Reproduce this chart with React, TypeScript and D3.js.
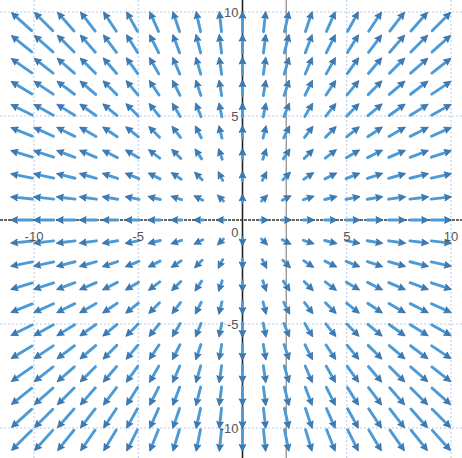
import React from "react";
import * as d3 from "d3";

// Vector field F(x, y) = A · (x, y)  (a radial source)
const fieldMatrix: number[][] = [
  [1, 0],
  [0, 1],
];

// Sample grid (index × step, in data units)
const gridCols: number[] = [-10, -9, -8, -7, -6, -5, -4, -3, -2, -1, 0, 1, 2, 3, 4, 5, 6, 7, 8, 9];
const gridRows: number[] = [-10, -9, -8, -7, -6, -5, -4, -3, -2, -1, 0, 1, 2, 3, 4, 5, 6, 7, 8, 9];
const gridStep = 1.06;

// Axis ticks and labels
const xTicks: number[] = [-10, -5, 5, 10];
const yTicks: number[] = [-10, -5, 5, 10];
const xTickLabels: string[] = ["-10", "-5", "5", "10"];
const yTickLabels: string[] = ["-10", "-5", "5", "10"];
const originLabel = "0";

// Extra vertical reference line
const refLineX: number[] = [2.1];

const W = 462;
const H = 458;

export default function App() {
  const x = d3.scaleLinear().domain([-10, 10]).range([34, 451]);
  const y = d3.scaleLinear().domain([-10, 10]).range([428, 12]);

  const arrows: { key: string; d: string; head: string }[] = [];
  for (const r of gridRows) {
    for (const c of gridCols) {
      const px = c * gridStep;
      const py = r * gridStep;
      const fx = fieldMatrix[0][0] * px + fieldMatrix[0][1] * py;
      const fy = fieldMatrix[1][0] * px + fieldMatrix[1][1] * py;
      const mag = Math.hypot(fx, fy);
      if (mag < 1e-9) continue;
      const ux = fx / mag;
      const uy = -fy / mag; // screen direction
      const L = 6.5 + 1.45 * mag;
      const cx = x(px);
      const cy = y(py);
      const sx = cx - (ux * L) / 2;
      const sy = cy - (uy * L) / 2;
      const ex = cx + (ux * L) / 2;
      const ey = cy + (uy * L) / 2;
      const hl = 7;
      const hw = 3.4;
      const bx = ex - ux * hl;
      const by = ey - uy * hl;
      const nx = -uy;
      const ny = ux;
      const d = L > hl ? `M${sx},${sy}L${bx + ux * 1.5},${by + uy * 1.5}` : "";
      const head = `M${ex},${ey}L${bx + nx * hw},${by + ny * hw}L${bx + ux * 1.3},${by + uy * 1.3}L${bx - nx * hw},${by - ny * hw}Z`;
      arrows.push({ key: `${r}_${c}`, d, head });
    }
  }

  const font = "'Liberation Sans', Arial, sans-serif";

  return (
    <svg
      width={W}
      height={H}
      style={{ position: "absolute", left: 0, top: 0, background: "#fff" }}
    >
      {/* grid lines */}
      <g stroke="#b3c9ec" strokeWidth={1} strokeDasharray="2,2">
        {xTicks.map((t) => (
          <line key={"gx" + t} x1={x(t)} x2={x(t)} y1={0} y2={H} />
        ))}
        {yTicks.map((t) => (
          <line key={"gy" + t} x1={0} x2={W} y1={y(t)} y2={y(t)} />
        ))}
      </g>

      {/* extra grey vertical line */}
      {refLineX.map((v) => (
        <line key={"r" + v} x1={x(v)} x2={x(v)} y1={0} y2={H} stroke="#9a9a9a" strokeWidth={1.4} />
      ))}

      {/* axes */}
      <line x1={0} x2={W} y1={y(0)} y2={y(0)} stroke="#333" strokeWidth={1.6} strokeDasharray="3,1" />
      <line x1={x(0)} x2={x(0)} y1={0} y2={H} stroke="#222" strokeWidth={1.6} />

      {/* arrows */}
      <g>
        {arrows.map((a) => (
          <g key={a.key}>
            {a.d && (
              <path d={a.d} stroke="#4d9bd6" strokeWidth={2.9} strokeLinecap="round" fill="none" />
            )}
            <path d={a.head} fill="#3a80c0" stroke="#2d5f8f" strokeWidth={0.7} strokeLinejoin="round" />
          </g>
        ))}
      </g>

      {/* tick labels */}
      <g fontFamily={font} fontSize={13} fill="#555">
        {xTicks.map((t, i) => (
          <text key={"lx" + t} x={x(t)} y={y(0) + 21} textAnchor="middle">
            {xTickLabels[i]}
          </text>
        ))}
        {yTicks.map((t, i) => (
          <text key={"ly" + t} x={x(0) - 4} y={y(t) + 4.5} textAnchor="end">
            {yTickLabels[i]}
          </text>
        ))}
        <text x={x(0) - 4} y={y(0) + 17} textAnchor="end">
          {originLabel}
        </text>
      </g>
    </svg>
  );
}
